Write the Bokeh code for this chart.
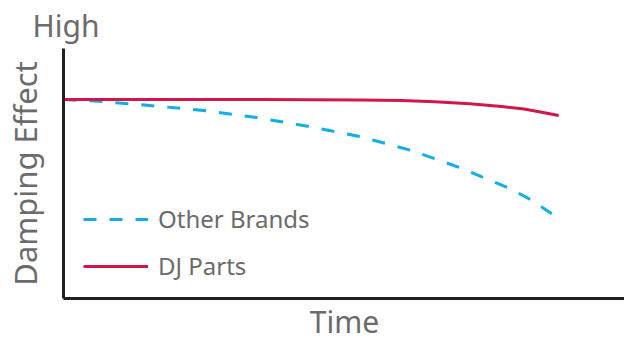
from bokeh.plotting import figure
from bokeh.models import Legend, LegendItem, Range1d, Title, FixedTicker
from bokeh.embed import file_html
from bokeh.resources import INLINE

# Data (time in arbitrary units, damping effect in arbitrary units)
time_other = [0, 0.71, 1.74, 2.83, 3.86, 4.93, 5.98, 7.03, 8.0, 9.01, 9.47, 10]
damp_other = [7.96, 7.89, 7.72, 7.52, 7.25, 6.89, 6.48, 5.92, 5.24, 4.40, 3.92, 3.2]
time_dj = [0, 2, 4, 5, 6, 6.83, 7.5, 8.2, 8.85, 9.3, 9.66, 10]
damp_dj = [7.96, 7.96, 7.96, 7.95, 7.94, 7.92, 7.87, 7.79, 7.68, 7.58, 7.45, 7.32]

FONT = "Noto Sans"
TXT = "#6b6b6b"
AX = "#231f20"
RED = "#d4154b"
BLUE = "#12aeea"

p = figure(frame_width=562, frame_height=250, output_backend="svg", toolbar_location=None,
           x_range=Range1d(0, 11.35), y_range=Range1d(0, 10),
           min_border_left=62, min_border_right=0, min_border_top=48, min_border_bottom=44)
p.outline_line_color = None
p.grid.visible = False
for ax in (p.xaxis, p.yaxis):
    ax.ticker = FixedTicker(ticks=[])
    ax.major_tick_out = 0
    ax.major_tick_in = 0
    ax.major_label_standoff = 0
    ax.axis_line_color = AX
    ax.axis_line_width = 3
    ax.axis_label_text_font = FONT
    ax.axis_label_text_color = TXT
    ax.axis_label_text_font_style = "normal"
p.xaxis.axis_label = "Time"
p.yaxis.axis_label = "Damping Effect"
p.xaxis.axis_label_text_font_size = "30px"
p.yaxis.axis_label_text_font_size = "31px"
p.xaxis.axis_label_standoff = 2
p.yaxis.axis_label_standoff = 18

r_other = p.line(time_other, damp_other, line_color=BLUE, line_width=3, line_dash="13 13")
r_dj = p.line(time_dj, damp_dj, line_color=RED, line_width=3)

legend = Legend(items=[LegendItem(label="Other Brands", renderers=[r_other]),
                       LegendItem(label="DJ Parts", renderers=[r_dj])],
                location=(20, 16), glyph_width=65, glyph_height=20, label_height=20,
                spacing=14, padding=0, margin=0, label_standoff=10,
                label_text_font=FONT, label_text_font_size="24px", label_text_color=TXT,
                background_fill_alpha=0, border_line_color=None)
p.add_layout(legend)

p.add_layout(Title(text="High", align="left", offset=-31, standoff=5, text_font=FONT,
                   text_font_size="30px", text_color=TXT, text_font_style="normal"), "above")

open("out.html", "w").write(file_html(p, INLINE))
